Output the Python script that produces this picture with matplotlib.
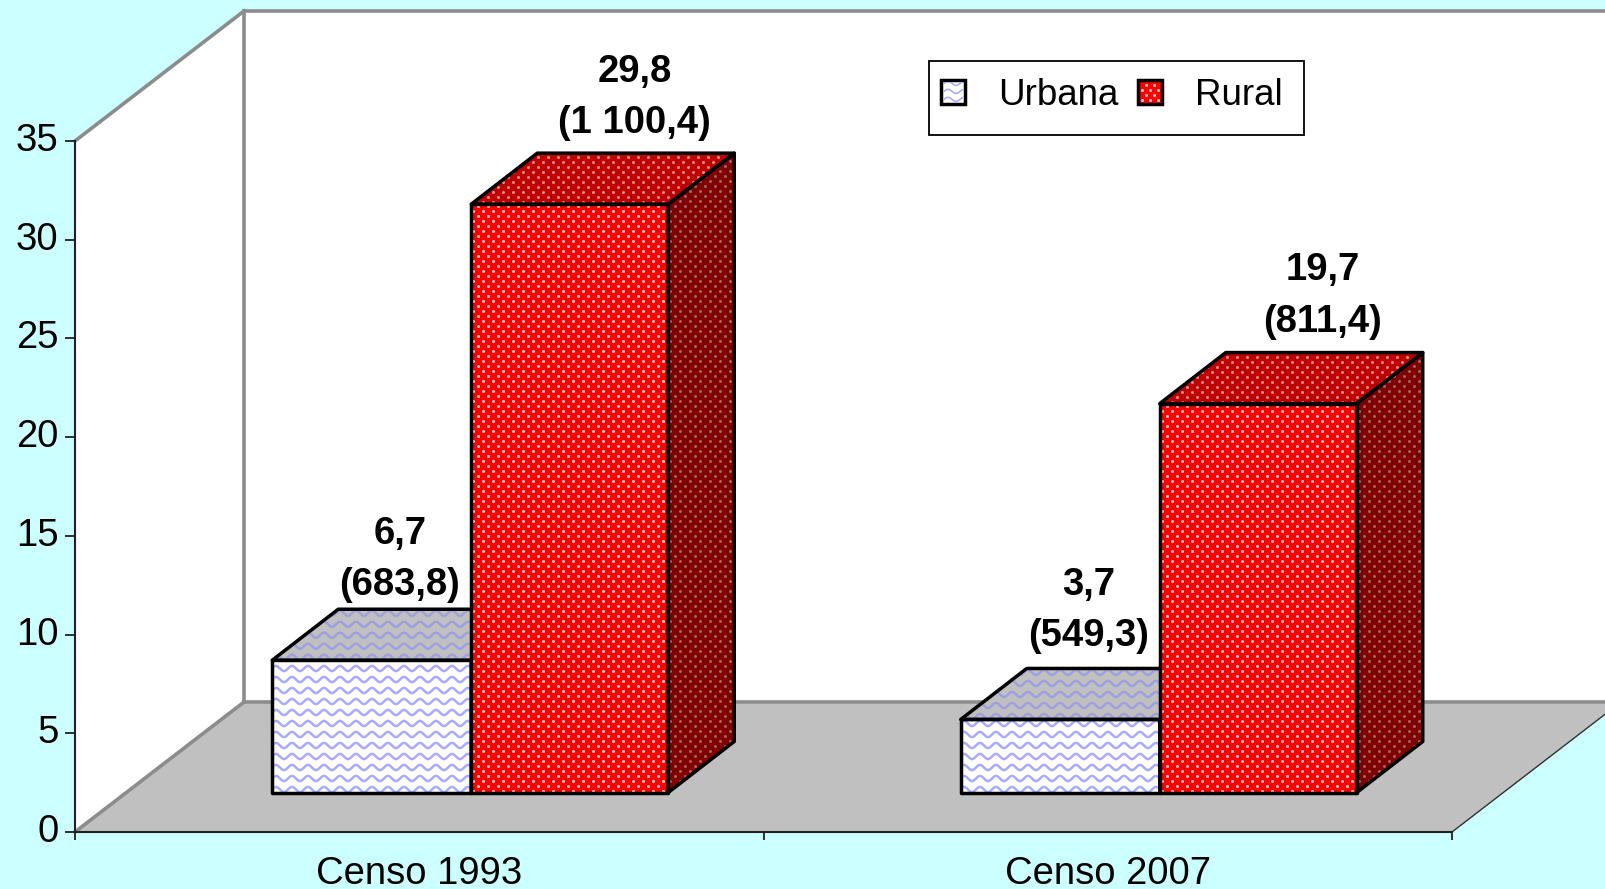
import numpy as np
import matplotlib
matplotlib.use('Agg')
import matplotlib.pyplot as plt
from matplotlib.lines import Line2D
from matplotlib.patches import Polygon, Patch, Rectangle
from matplotlib.transforms import IdentityTransform, ScaledTranslation

plt.rcParams['font.family'] = ['Liberation Sans', 'DejaVu Sans']

categories = ['Censo 1993', 'Censo 2007']
series_names = ['Urbana', 'Rural']
urbana = [6.7, 3.7]
rural = [29.8, 19.7]
urbana_labels = ['6,7\n(683,8)', '3,7\n(549,3)']
rural_labels = ['29,8\n(1 100,4)', '19,7\n(811,4)']
yticks = [0, 5, 10, 15, 20, 25, 30, 35]

W, H = 1605, 889
x_left, x_right = 75, 1452
y_zero, y_top = 832, 141
sx = (x_right - x_left) / 2.0
sy = (y_zero - y_top) / 35.0

# depth of the fake 3d box and of the bars, in data units
wall_dx, wall_dy = 169 / sx, 130 / sy
bar_dx, bar_dy = 66 / sx, 51 / sy
off_dx, off_dy = 52 / sx, 39.5 / sy
urbana_w = 199 / sx
rural_w = 197 / sx
fontsize = 27.5

fig = plt.figure(figsize=(W / 100, H / 100), dpi=100, facecolor='#ccffff')
ax = fig.add_axes([x_left / W, (H - y_zero) / H, (x_right - x_left) / W, (y_zero - y_top) / H])
ax.set_facecolor('none')
ax.set_xlim(0, 2)
ax.set_ylim(0, 35)


def poly(pts, fc, ec='none', lw=0, z=1):
    p = Polygon(pts, closed=True, facecolor=fc, edgecolor=ec, linewidth=lw, zorder=z,
                clip_on=False, joinstyle='round')
    ax.add_patch(p)
    return p


def wave_lines(b, spacing, amp, color, lw, z):
    xs = np.arange(b.x0, b.x1 + 1, 1.0)
    lines = []
    for y0 in np.arange(b.y0 + 3, b.y1 + 1, spacing):
        ys = y0 + amp * np.sin(2 * np.pi * xs / 16.0)
        lines.append(Line2D(xs, ys, color=color, lw=lw, transform=IdentityTransform(), zorder=z))
    return lines


def dot_line(b, color, z, step=10.0):
    pts_x, pts_y = [], []
    for i, y0 in enumerate(np.arange(b.y0 + 2, b.y1 + 1, 5.0)):
        xs = np.arange(b.x0 + 2 + step / 2 * (i % 2), b.x1 + 1, step)
        pts_x.extend(xs)
        pts_y.extend([y0] * len(xs))
    return Line2D(pts_x, pts_y, ls='none', marker='o', ms=2.2, mew=0, color=color,
                  transform=IdentityTransform(), zorder=z)


def wave_texture(p, color, z):
    for l in wave_lines(p.get_window_extent(), 11.0, 2.6, color, 1.8, z):
        ax.add_artist(l)
        l.set_clip_path(p)


def dot_texture(p, color, z):
    l = dot_line(p.get_window_extent(), color, z)
    ax.add_artist(l)
    l.set_clip_path(p)


# walls and floor
poly([(0, 0), (wall_dx, wall_dy), (wall_dx, 35 + wall_dy), (0, 35)], 'white', z=0.5)
poly([(wall_dx, wall_dy), (2.4, wall_dy), (2.4, 35 + wall_dy), (wall_dx, 35 + wall_dy)], 'white', z=0.5)
poly([(0, 0), (wall_dx, wall_dy), (2 + wall_dx, wall_dy), (2, 0)], '#c0c0c0', z=0.6)
grey = '#8c8c8c'
for xs, ys in [([0, wall_dx], [35, 35 + wall_dy]), ([wall_dx, 2.4], [35 + wall_dy] * 2),
               ([wall_dx, wall_dx], [wall_dy, 35 + wall_dy]), ([wall_dx, 2 + wall_dx], [wall_dy] * 2),
               ([0, wall_dx], [0, wall_dy])]:
    ax.plot(xs, ys, color=grey, lw=2.6, clip_on=False, zorder=0.8, solid_capstyle='projecting')
ax.plot([2, 2 + wall_dx], [0, wall_dy], color='#303030', lw=1.0, clip_on=False, zorder=0.8)
fig.canvas.draw()


def bar3d(x0, val, bar_w, front, top, side, texture, colors, label, label_x, label_dy, z):
    x1 = x0 + bar_w
    y0 = off_dy
    y1 = off_dy + val
    r = ax.bar(x0, val, bar_w, bottom=y0, align='edge', color=front, edgecolor='none',
               zorder=z, clip_on=False)[0]
    t = poly([(x0, y1), (x0 + bar_dx, y1 + bar_dy), (x1 + bar_dx, y1 + bar_dy), (x1, y1)], top, z=z)
    s = poly([(x1, y0), (x1 + bar_dx, y0 + bar_dy), (x1 + bar_dx, y1 + bar_dy), (x1, y1)], side, z=z)
    for face, c in zip([r, t, s], colors):
        texture(face, c, z + 0.01)
    outline = dict(fc='none', ec='black', lw=2.5, z=z + 0.02)
    poly([(x0, y0), (x1, y0), (x1, y1), (x0, y1)], **outline)
    poly([(x0, y1), (x0 + bar_dx, y1 + bar_dy), (x1 + bar_dx, y1 + bar_dy), (x1, y1)], **outline)
    poly([(x1, y0), (x1 + bar_dx, y0 + bar_dy), (x1 + bar_dx, y1 + bar_dy), (x1, y1)], **outline)
    ax.text(label_x, y1 + bar_dy + label_dy, label, ha='center', va='bottom',
            fontsize=fontsize, fontweight='bold', linespacing=1.55, zorder=10)


for i in range(2):
    cx = i + 0.5 + off_dx
    bar3d(cx - urbana_w, urbana[i], urbana_w, 'white', '#c0c0c0', '#c0c0c0', wave_texture,
          ['#aaaaff', '#a0a0e0', '#a0a0e0'], urbana_labels[i], cx - urbana_w / 2 + 0.041,
          [0.29, 0.72][i], 2)
    bar3d(cx, rural[i], rural_w, '#ff0000', '#c00000', '#800000', dot_texture,
          ['#ffc4c4', '#e08c8c', '#a86060'], rural_labels[i], cx + rural_w / 2 + 0.094,
          [0.6, 0.65][i], 3)

# axes
ax.set_yticks(yticks)
ax.set_xticks([0, 1, 2])
ax.set_xticklabels([])
ax.set_xticks([0.5, 1.5], minor=True)
ax.set_xticklabels(categories, minor=True, fontsize=fontsize)
ax.tick_params(axis='x', which='major', length=6, width=1.3, color='#202020')
ax.tick_params(axis='x', which='minor', length=0, pad=17)
ax.tick_params(axis='y', length=7, width=1.3, color='#202020', labelsize=fontsize, pad=5)
up = ScaledTranslation(0, 4 / 100, fig.dpi_scale_trans)
for lab in ax.get_yticklabels():
    lab.set_transform(lab.get_transform() + up)
for name in ['top', 'right']:
    ax.spines[name].set_visible(False)
for name in ['left', 'bottom']:
    ax.spines[name].set_linewidth(1.5)
    ax.spines[name].set_color('#202020')
    ax.spines[name].set_zorder(1.5)

# legend: box drawn apart, the vertical padding differs from the horizontal one
fig.add_artist(Rectangle((929 / W, 1 - 135 / H), 375 / W, 74 / H, transform=fig.transFigure,
                         facecolor='white', edgecolor='black', linewidth=1.3, zorder=19))
handles = [Patch(facecolor='white', edgecolor='black', linewidth=2.5),
           Patch(facecolor='#ff0000', edgecolor='black', linewidth=2.5)]
leg = fig.legend(handles, series_names, ncol=2, loc='upper left',
                 bbox_to_anchor=(941 / W, 1 - 78 / H), fontsize=26.5, frameon=False,
                 handlelength=0.64, handleheight=0.64, handletextpad=0.9, columnspacing=0.55,
                 borderpad=0, borderaxespad=0)
leg.set_zorder(20)
fig.canvas.draw()

for patch, kind in zip(leg.get_patches(), ['wave', 'dot']):
    b = patch.get_window_extent().expanded(0.85, 0.85)
    if kind == 'wave':
        for l in wave_lines(b, 8.0, 2.0, '#aaaaff', 1.2, 21):
            fig.add_artist(l)
            l.set_clip_box(b)
    else:
        l = dot_line(b, '#ffc4c4', 21, step=8.0)
        fig.add_artist(l)
        l.set_clip_box(b)

fig.savefig('out.png', dpi=100, facecolor=fig.get_facecolor())
